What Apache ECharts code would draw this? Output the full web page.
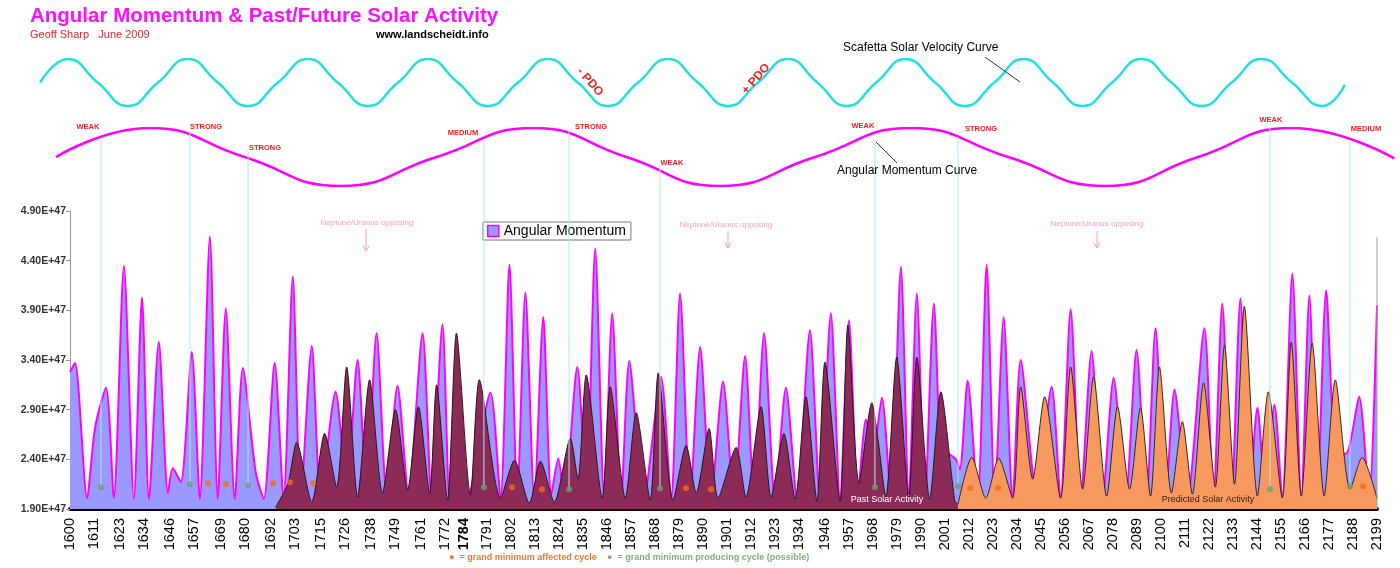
<!DOCTYPE html>
<html>
<head>
<meta charset="utf-8">
<title>Angular Momentum &amp; Past/Future Solar Activity</title>
<script src="https://cdn.jsdelivr.net/npm/echarts@6/dist/echarts.min.js"></script>
<style>
html, body { margin: 0; padding: 0; background: #fff; }
#chart { width: 1400px; height: 568px; }
</style>
</head>
<body>
<div id="chart"></div>
<script>
// x axis labels (years) and y ticks (x 1E+47)
var labelYears = [1600, 1611, 1623, 1634, 1646, 1657, 1669, 1680, 1692, 1703, 1715, 1726, 1738, 1749, 1761, 1772, 1784,
    1791, 1802, 1813, 1824, 1835, 1846, 1857, 1868, 1879, 1890, 1901, 1912, 1923, 1934, 1946, 1957, 1968, 1979, 1990,
    2001, 2012, 2023, 2034, 2045, 2056, 2067, 2078, 2089, 2100, 2111, 2122, 2133, 2144, 2155, 2166, 2177, 2188, 2199];
var yTicks = [1.9, 2.4, 2.9, 3.4, 3.9, 4.4, 4.9];

// angular momentum [year, E+47]
var amData = [
    [1600, 3.28], [1602.3, 3.37], [1607.8, 2.01], [1611.5, 2.72], [1616.5, 3.12], [1620.1, 2.01], [1624.7, 4.35],
    [1629.3, 2.0], [1633.0, 4.03], [1636.2, 2.0], [1640.7, 3.58], [1644.9, 2.06], [1647.1, 2.31], [1650.8, 2.17],
    [1655.8, 3.48], [1659.5, 2.0], [1664.1, 4.64], [1667.7, 2.0], [1671.4, 3.92], [1675.5, 2.0], [1679.2, 3.32],
    [1685.1, 2.27], [1688.8, 2.0], [1693.8, 3.37], [1697.9, 2.0], [1702.1, 4.24], [1705.7, 1.99], [1710.8, 3.54],
    [1714.9, 2.02], [1721.7, 3.08], [1726.8, 2.12], [1731.8, 3.40], [1735.9, 2.06], [1740.5, 3.67], [1745.1, 2.06],
    [1750.1, 3.14], [1755.1, 2.06], [1761.6, 3.67], [1765.7, 2.03], [1770.7, 3.76], [1773.9, 2.0], [1777.1, 3.3],
    [1782.6, 2.04], [1792.7, 3.07], [1797.3, 2.01], [1801.4, 4.36], [1805.0, 2.0], [1808.7, 4.08], [1812.8, 2.0],
    [1816.9, 3.83], [1820.6, 2.05], [1823.8, 2.41], [1826.5, 2.0], [1832.5, 3.33], [1836.6, 2.05], [1840.7, 4.52],
    [1844.8, 2.0], [1848.5, 3.87], [1852.6, 2.0], [1856.3, 3.39], [1863.0, 2.0], [1870.9, 3.23], [1875.5, 2.0],
    [1879.6, 4.07], [1884.2, 2.0], [1888.8, 3.53], [1893.8, 2.0], [1899.3, 3.18], [1904.3, 2.0], [1909.4, 3.44],
    [1913.5, 2.0], [1918.1, 3.67], [1923.1, 2.0], [1928.1, 3.12], [1933.2, 2.0], [1939.1, 3.70], [1943.7, 2.0],
    [1948.7, 3.87], [1952.9, 2.0], [1957.0, 3.80], [1961.1, 2.05], [1964.8, 2.80], [1968.0, 2.45], [1972.1, 3.02],
    [1976.2, 2.0], [1980.8, 4.34], [1984.4, 2.0], [1988.1, 4.07], [1991.8, 2.0], [1995.9, 3.97], [2000.0, 2.05],
    [2003.0, 2.45], [2006.0, 2.40], [2007.8, 2.30], [2011.4, 3.19], [2016.0, 2.0], [2020.1, 4.36], [2023.8, 2.0],
    [2027.9, 3.83], [2032.0, 2.0], [2035.7, 3.40], [2043.0, 2.05], [2049.9, 3.13], [2054.0, 2.0], [2058.6, 3.91],
    [2063.2, 2.0], [2068.2, 3.49], [2073.2, 2.0], [2078.3, 3.22], [2083.8, 2.0], [2088.8, 3.50], [2093.4, 2.0],
    [2097.5, 3.72], [2102.1, 2.0], [2106.2, 3.10], [2112.1, 2.0], [2119.9, 3.72], [2124.0, 2.0], [2128.1, 3.97],
    [2132.3, 2.0], [2136.4, 4.02], [2140.5, 2.0], [2144.2, 2.92], [2147.8, 2.1], [2152.0, 2.95], [2155.6, 2.0],
    [2160.2, 4.27], [2164.3, 2.0], [2168.0, 4.05], [2171.6, 2.0], [2175.7, 4.10], [2180.5, 2.45], [2185.5, 2.47],
    [2190.8, 3.03], [2195.4, 2.0], [2199, 3.95]
];

// past solar activity (scaled to the same axis)
var pastData = [
    [1694.3, 1.92], [1699.8, 2.15], [1703.9, 2.57], [1710.8, 1.97], [1716.7, 2.66], [1722.2, 2.12], [1726.8, 3.33],
    [1731.8, 2.02], [1737.3, 3.20], [1743.2, 2.06], [1749.2, 2.90], [1754.7, 2.09], [1759.7, 2.93], [1764.8, 2.06],
    [1768.0, 3.15], [1773.0, 1.99], [1777.1, 3.67], [1783.5, 2.04], [1787.6, 3.20], [1797.3, 2.01], [1803.7, 2.39],
    [1810.5, 1.96], [1815.6, 2.38], [1822.0, 1.97], [1829.3, 2.61], [1832.8, 2.2], [1836.6, 3.25], [1843.9, 2.01],
    [1847.6, 3.13], [1854.5, 2.01], [1859.5, 2.87], [1865.9, 1.99], [1869.6, 3.27], [1876.4, 1.99], [1882.4, 2.54],
    [1887.0, 2.06], [1892.9, 2.71], [1897.0, 2.01], [1905.3, 2.52], [1909.8, 2.02], [1916.7, 2.93], [1921.3, 2.02],
    [1927.2, 2.66], [1932.3, 2.0], [1937.3, 3.03], [1942.3, 1.98], [1946.0, 3.38], [1952.9, 1.98], [1956.5, 3.75],
    [1961.6, 2.16], [1967.5, 2.97], [1970.3, 2.6], [1973.9, 2.02], [1978.9, 3.43], [1984.4, 2.02], [1988.1, 3.43],
    [1994.0, 2.0], [1999.1, 3.08], [2005.5, 1.98], [2007.0, 1.95]
];

// predicted solar activity
var predData = [
    [2007.0, 1.95], [2013.3, 2.42], [2019.7, 2.01], [2025.6, 2.41], [2032.0, 2.01], [2035.7, 3.13], [2041.2, 2.2],
    [2046.7, 3.03], [2054.0, 2.01], [2058.6, 3.33], [2064.1, 2.1], [2069.1, 3.23], [2075.1, 2.03], [2080.1, 2.93],
    [2085.6, 2.1], [2090.6, 2.92], [2095.2, 2.03], [2099.3, 3.33], [2104.8, 2.06], [2109.8, 2.78], [2114.4, 2.05],
    [2119.5, 3.17], [2124.9, 2.12], [2129.1, 3.55], [2133.7, 2.15], [2138.2, 3.94], [2144.2, 2.03], [2149.2, 3.08],
    [2155.6, 2.01], [2159.7, 3.58], [2164.3, 2.03], [2169.3, 3.57], [2174.8, 2.03], [2179.9, 3.20], [2186.7, 2.1],
    [2192.2, 2.42], [2199, 2.01]
];

// grand minimum markers
var affectedDots = [[1663.2, 2.16], [1671.5, 2.15], [1693.0, 2.16], [1700.8, 2.17], [1711.4, 2.16], [1802.6, 2.12],
    [1816.3, 2.10], [1882.3, 2.11], [1893.8, 2.10], [2012.5, 2.11], [2025.3, 2.11], [2192.6, 2.13]];
var producingYears = [1614.2, 1655.0, 1681.6, 1789.7, 1828.7, 1870.4, 1968.9, 2007.0, 2150.0, 2186.6];
var producingVals = [2.12, 2.15, 2.14, 2.12, 2.10, 2.11, 2.12, 2.13, 2.10, 2.13];
// where each guide line meets the angular momentum curve (same axis units, above the plot)
var guideTops = [5.61, 5.72, 5.51, 5.61, 5.72, 5.36, 5.61, 5.64, 5.74, 5.61];

// upper curves, normalised -1..1
var velocityCurve = [[1586.3, 0], [1599, 1], [1612.7, 0], [1626.5, -1], [1640.3, 0], [1654, 1], [1667.7, 0], [1681.5, -1],
    [1695.3, 0], [1709, 1], [1722.7, 0], [1736.5, -1], [1750.3, 0], [1764, 1], [1777.7, 0], [1791.5, -1], [1805.3, 0],
    [1819, 1], [1832.7, 0], [1846.5, -1], [1860.3, 0], [1874, 1], [1887.7, 0], [1901.5, -1], [1915.3, 0], [1929, 1],
    [1942.5, 0], [1956, -1], [1969.5, 0], [1983, 1], [1996.5, 0], [2010, -1], [2023.6, 0], [2037, 1], [2050.5, 0],
    [2064, -1], [2077.6, 0], [2091, 1], [2104.8, 0], [2118.6, -1], [2132.4, 0], [2146, 1], [2160, 0], [2174, -1],
    [2184.3, -0.1]];
var momentumCurve = [[1593.6, 0], [1636.6, 1], [1680, 0], [1724, -1], [1768, 0], [1812.4, 1], [1855, 0], [1897.9, -1],
    [1941.5, 0], [1985.4, 1], [2030, 0], [2074.6, -1], [2117, 0], [2159.7, 1], [2206.9, -0.05]];

var FONT = '"Liberation Sans", Arial, sans-serif';
var chart = echarts.init(document.getElementById('chart'));

function txt(x, y, text, size, color, weight, align, rot) {
    return {
        type: 'text', x: x, y: y, rotation: rot || 0, z: 50,
        style: {
            text: text, fontSize: size, fill: color, fontWeight: weight || 'normal',
            fontFamily: FONT, align: align || 'left', verticalAlign: 'middle'
        }
    };
}
function arrow(x, y1, y2, color) {
    return {
        type: 'group', z: 50, children: [
            { type: 'line', shape: { x1: x, y1: y1, x2: x, y2: y2 }, style: { stroke: color, lineWidth: 1 } },
            { type: 'polyline', shape: { points: [[x - 3, y2 - 5], [x, y2], [x + 3, y2 - 5]] }, style: { stroke: color, fill: null, lineWidth: 1 } }
        ]
    };
}

var red = '#ee2222', pink = '#f59cc6';
var graphics = [
    {
        type: 'text', x: 30, y: 6, z: 50,
        style: {
            text: 'Angular Momentum & Past/Future Solar Activity', fontSize: 20.5, fontWeight: 'bold', fontFamily: FONT,
            fill: '#ff10ff', shadowColor: 'rgba(90,90,90,0.6)', shadowOffsetX: 1.5, shadowOffsetY: 1.5, shadowBlur: 1
        }
    },
    txt(30, 35, 'Geoff Sharp   June 2009', 11, '#e3262e'),
    txt(376, 35, 'www.landscheidt.info', 11, '#000', 'bold'),
    txt(843, 48, 'Scafetta Solar Velocity Curve', 12, '#000'),
    txt(837, 171, 'Angular Momentum Curve', 12, '#000'),
    { type: 'line', z: 50, shape: { x1: 985, y1: 57, x2: 1020, y2: 82 }, style: { stroke: '#333', lineWidth: 1 } },
    { type: 'line', z: 50, shape: { x1: 876, y1: 142, x2: 897, y2: 163 }, style: { stroke: '#333', lineWidth: 1 } },
    txt(590, 82, '- PDO', 12, red, 'bold', 'center', -0.85),
    txt(756, 79, '+ PDO', 12, red, 'bold', 'center', 0.85),
    txt(88, 127, 'WEAK', 7.5, red, 'bold', 'center'),
    txt(206, 127, 'STRONG', 7.5, red, 'bold', 'center'),
    txt(265, 148, 'STRONG', 7.5, red, 'bold', 'center'),
    txt(463, 133, 'MEDIUM', 7.5, red, 'bold', 'center'),
    txt(591, 127, 'STRONG', 7.5, red, 'bold', 'center'),
    txt(672, 163, 'WEAK', 7.5, red, 'bold', 'center'),
    txt(863, 126, 'WEAK', 7.5, red, 'bold', 'center'),
    txt(981, 129, 'STRONG', 7.5, red, 'bold', 'center'),
    txt(1271, 120, 'WEAK', 7.5, red, 'bold', 'center'),
    txt(1366, 129, 'MEDIUM', 7.5, red, 'bold', 'center'),
    txt(367, 223, 'Neptune/Uranus opposing', 8, pink, 'normal', 'center'),
    arrow(366, 229, 251, pink),
    txt(726, 225, 'Neptune/Uranus opposing', 8, pink, 'normal', 'center'),
    arrow(728, 231, 248, pink),
    txt(1097, 224, 'Neptune/Uranus opposing', 8, pink, 'normal', 'center'),
    arrow(1097, 231, 248, pink),
    txt(887, 500, 'Past Solar Activity', 9, '#fff', 'normal', 'center'),
    txt(1208, 500, 'Predicted Solar Activity', 9, '#3a2010', 'normal', 'center'),
    txt(449, 558, '\u25CF  = grand minimum affected cycle', 9, '#f07a28', 'bold'),
    txt(607, 558, '\u25CF  = grand minimum producing cycle (possible)', 9, '#89a889', 'bold')
];

var series = [
    {
        name: 'Angular Momentum', type: 'line', data: amData, smooth: 0.25, symbol: 'none', z: 2,
        lineStyle: { color: '#ff00ff', width: 2 },
        itemStyle: { color: '#9999ff', borderColor: '#ff00ff' },
        areaStyle: { color: '#9999ff', opacity: 1 }
    },
    {
        name: 'Past Solar Activity', type: 'line', data: pastData, smooth: 0.25, symbol: 'none', z: 3,
        lineStyle: { color: '#2a1420', width: 1 },
        itemStyle: { color: '#8c2a58' },
        areaStyle: { color: '#8c2a58', opacity: 1 }
    },
    {
        name: 'Predicted Solar Activity', type: 'line', data: predData, smooth: 0.25, symbol: 'none', z: 3,
        lineStyle: { color: '#3a2418', width: 1 },
        itemStyle: { color: '#f7995f' },
        areaStyle: { color: '#f7995f', opacity: 1 }
    },
    {
        name: 'Scafetta Solar Velocity Curve', type: 'line', xAxisIndex: 1, yAxisIndex: 1, data: velocityCurve,
        smooth: 0.5, symbol: 'none', lineStyle: { color: '#22e0e0', width: 2.5 }
    },
    {
        name: 'Angular Momentum Curve', type: 'line', xAxisIndex: 2, yAxisIndex: 2, data: momentumCurve,
        smooth: 0.5, symbol: 'none', lineStyle: { color: '#ff00ff', width: 2.5 }
    },
    {
        // thin grey closing line at the right edge
        type: 'line', data: [[2199, 1.9], [2199, 4.64]], symbol: 'none', z: 4, silent: true,
        lineStyle: { color: '#a0a0a0', width: 1 }
    }
];
producingYears.forEach(function(yr, i) {
    series.push({
        type: 'line', data: [[yr, producingVals[i]], [yr, guideTops[i]]], symbol: 'none', clip: false, z: 4,
        lineStyle: { color: '#a6ecf4', width: 1 }, silent: true
    });
});
series.push({
    type: 'scatter', data: affectedDots, symbolSize: 6, z: 6, itemStyle: { color: '#f26a1b' }
});
series.push({
    type: 'scatter', data: producingYears.map(function(yr, i) { return [yr, producingVals[i]]; }),
    symbolSize: 6, z: 6, itemStyle: { color: '#6f9e72' }
});

// top curves run a little wider than the plot: same px-per-year, wider year range
var topGrid = { left: 26.36, right: 1.18 };

chart.setOption({
    animation: false,
    backgroundColor: '#fff',
    graphic: graphics,
    legend: {
        data: [{ name: 'Angular Momentum', icon: 'rect', itemStyle: { color: '#9999ff', borderColor: '#ff00ff', borderWidth: 1.5 } }],
        left: 483, top: 222, padding: [2, 5, 2, 4], itemWidth: 11, itemHeight: 11, itemGap: 4,
        borderColor: '#777', borderWidth: 1, backgroundColor: '#fff',
        lineStyle: { width: 0 },
        textStyle: { fontSize: 14, color: '#000', fontFamily: FONT }
    },
    grid: [
        { left: 70, right: 23, top: 211, bottom: 59 },
        { left: topGrid.left, right: topGrid.right, top: 59, height: 47 },
        { left: topGrid.left, right: topGrid.right, top: 128, height: 58 }
    ],
    xAxis: [
        {
            type: 'value', min: 1600, max: 2199,
            axisLine: { show: true, onZero: false, lineStyle: { color: '#000', width: 4 } },
            axisTick: { show: false },
            splitLine: { show: false },
            axisLabel: {
                customValues: labelYears, rotate: 90, margin: 9, fontSize: 14.5, color: '#000', fontFamily: FONT,
                formatter: function(v) { return v === 1784 ? '{b|1784}' : String(v); },
                rich: { b: { fontWeight: 'bold', fontSize: 14.5, fontFamily: FONT, color: '#000', padding: [0, 0, 14, 0] } }
            }
        },
        { gridIndex: 1, type: 'value', min: 1580, max: 2209, show: false },
        { gridIndex: 2, type: 'value', min: 1580, max: 2209, show: false }
    ],
    yAxis: [
        {
            type: 'value', min: 1.9, max: 4.9,
            axisLine: { show: true, lineStyle: { color: '#999' } },
            axisTick: { show: true, length: 4, customValues: yTicks, lineStyle: { color: '#999' } },
            splitLine: { show: false },
            axisLabel: {
                customValues: yTicks, margin: 4, fontSize: 10.5, fontWeight: 'bold', color: '#333', fontFamily: FONT,
                formatter: function(v) { return v.toFixed(2) + 'E+47'; }
            }
        },
        { gridIndex: 1, type: 'value', min: -1, max: 1, show: false },
        { gridIndex: 2, type: 'value', min: -1, max: 1, show: false }
    ],
    series: series
});
window.onresize = function() { chart.resize(); };
</script>
</body>
</html>
